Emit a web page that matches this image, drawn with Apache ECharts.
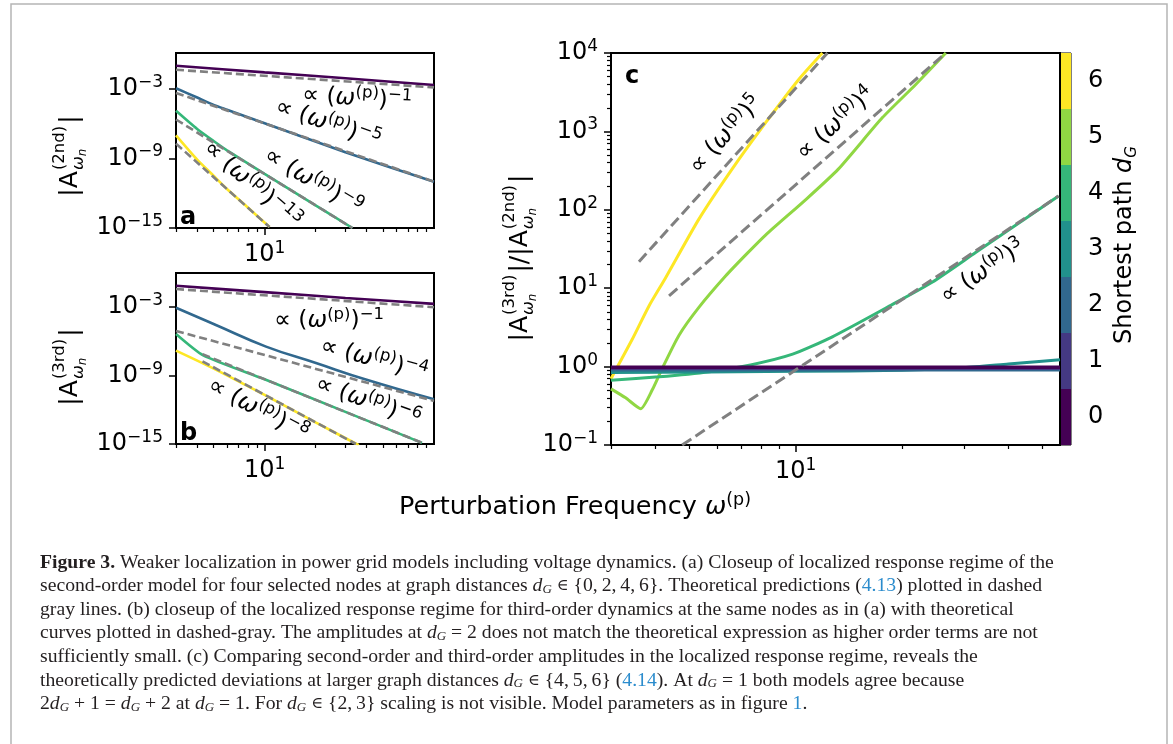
<!DOCTYPE html>
<html>
<head>
<meta charset="utf-8">
<title>Figure 3</title>
<script src="https://cdn.jsdelivr.net/npm/echarts@6/dist/echarts.min.js"></script>
<style>
    html, body { margin: 0; padding: 0; background: #fff; }
    #main { width: 1173px; height: 744px; }
</style>
</head>
<body>
<div id="main"></div>
<script>
// colours of the shortest path levels d_G = 0..6 (viridis, 7 steps)
var levels = [0, 1, 2, 3, 4, 5, 6];
var levelColors = ['#440154', '#443983', '#31688e', '#21918c', '#35b779', '#90d743', '#fde725'];

// tick values
var abMajorX = [10];
var abMinorX = [3, 4, 5, 6, 7, 8, 9, 20, 30, 40, 50, 60, 70, 80, 90];
var abMajorY = [1e-15, 1e-9, 1e-3];
var cMajorX = [10];
var cMinorX = [3, 4, 5, 6, 7, 8, 9, 20, 30, 40, 50];
var cMajorY = [0.1, 1, 10, 100, 1000, 10000];
var cMinorY = [0.2, 0.3, 0.4, 0.5, 0.6, 0.7, 0.8, 0.9, 2, 3, 4, 5, 6, 7, 8, 9,
    20, 30, 40, 50, 60, 70, 80, 90, 200, 300, 400, 500, 600, 700, 800, 900,
    2000, 3000, 4000, 5000, 6000, 7000, 8000, 9000];

// panel a: |A^(2nd)| against omega^(p), solid = model, fit = dashed theory
var a_d0 = [[3, 1.0e-1], [10, 2.7e-2], [30, 8.3e-3], [100, 2.2e-3]];
var a_d0_fit = [[3, 4.5e-2], [100, 1.35e-3]];
var a_d2 = [[3, 1.15e-3], [4, 1.8e-4], [5, 4.2e-5], [6, 1.6e-5], [10, 1.1e-6], [30, 3.4e-9], [100, 1.0e-11]];
var a_d2_fit = [[3, 4.5e-4], [100, 1.0e-11]];
var a_d4 = [[3, 1.3e-5], [4, 3.5e-7], [5, 3.2e-8], [6, 5e-9], [10, 4.7e-11], [20, 9.1e-14], [33, 1e-15]];
var a_d4_fit = [[3, 2.3e-6], [33, 1e-15]];
var a_d6 = [[3, 1e-7], [4, 8e-10], [5, 3.2e-11], [6, 2.3e-12], [8, 5.5e-14], [10.7, 1.2e-15]];
var a_d6_fit = [[3, 1.9e-8], [10.7, 1.2e-15]];

// panel b: |A^(3rd)|
var b_d0 = [[3, 7.6e-2], [10, 2.1e-2], [30, 6.5e-3], [100, 1.95e-3]];
var b_d0_fit = [[3, 3.9e-2], [100, 1.0e-3]];
var b_d2 = [[3, 8.9e-4], [5.2, 2.6e-5], [10.2, 3.5e-7], [20.1, 1.26e-8], [39.6, 4.5e-10], [100, 8.3e-12]];
var b_d2_fit = [[3, 8.3e-6], [100, 6.0e-12]];
var b_d4 = [[3, 4.4e-6], [4.34, 6e-8], [10, 4.8e-10], [30, 6.6e-13], [85, 1.26e-15]];
var b_d4_fit = [[4.3, 7.6e-8], [85, 1.26e-15]];
var b_d6 = [[3, 1.55e-7], [4.3, 1.26e-8], [6, 1.05e-9], [10, 2e-11], [20, 7.9e-14], [36, 7.9e-16]];
var b_d6_fit = [[4.3, 1.8e-8], [34.6, 1e-15]];

// panel c: ratio |A^(3rd)| / |A^(2nd)|
var c_d0 = [[3, 0.98], [56, 0.98]];
var c_d1 = [[3, 0.95], [56, 0.95]];
var c_d2 = [[3, 0.91], [56, 0.91]];
var c_d3 = [[3, 0.84], [10, 0.87], [20, 0.9], [30, 0.97], [40, 1.08], [56, 1.22]];
var c_d4 = [[3, 0.67], [4.1, 0.74], [5.7, 0.86], [7.45, 1.05], [9.8, 1.44], [12.7, 2.4], [18.4, 5.9], [24.4, 12], [32.3, 28.5], [55.5, 150]];
var c_d5 = [[3, 0.52], [3.3, 0.4], [3.64, 0.29], [3.93, 0.51], [4.19, 0.95], [4.67, 2.5], [5.32, 5.7], [6.33, 14.3], [7.3, 28], [8.23, 48],
    [10.7, 136], [13.2, 330], [17.6, 1500], [21.9, 4000], [26.6, 1e4]];
var c_d6 = [[3, 0.7], [3.13, 1.0], [3.44, 2.2], [3.84, 5.9], [4.28, 13.5], [5.32, 76], [6.62, 335], [8.23, 1300], [10.2, 4600], [11.9, 1e4]];
var c_fit5 = [[3.6, 21.8], [12.3, 1e4]];
var c_fit4 = [[4.38, 8], [26.6, 1e4]];
var c_fit3 = [[4.77, 0.1], [55.5, 150]];

var FONT = 'DejaVu Sans';
var SERIF = 'Liberation Serif';

var chart = echarts.init(document.getElementById('main'));

//10^n tick labels
function powLabel(v) {
    var e = Math.round(Math.log10(v));
    return '{b|10}{s|' + (e < 0 ? '\u2212' : '') + Math.abs(e) + '}';
}
var powRich = {
    b: {fontSize: 24, fontFamily: FONT, color: '#000', lineHeight: 30},
    s: {fontSize: 17, fontFamily: FONT, color: '#000', lineHeight: 17, verticalAlign: 'top'}
};

function xMajor(grid, min, max, ticks) {
    return {
        type: 'log', gridIndex: grid, min: min, max: max, position: 'bottom',
        axisLine: {show: false}, splitLine: {show: false},
        axisTick: {customValues: ticks, length: 7, lineStyle: {color: '#000', width: 1.5}},
        axisLabel: {customValues: ticks, formatter: powLabel, rich: powRich, margin: 12}
    };
}
function xMinor(grid, min, max, ticks) {
    return {
        type: 'log', gridIndex: grid, min: min, max: max, position: 'bottom',
        axisLine: {show: false}, splitLine: {show: false},
        axisTick: {customValues: ticks, length: 4, lineStyle: {color: '#000', width: 1.2}},
        axisLabel: {show: false}
    };
}
function yMajor(grid, min, max, ticks) {
    return {
        type: 'log', gridIndex: grid, min: min, max: max, position: 'left',
        axisLine: {show: false}, splitLine: {show: false},
        axisTick: {customValues: ticks, length: 7, lineStyle: {color: '#000', width: 1.5}},
        axisLabel: {customValues: ticks, formatter: powLabel, rich: powRich, margin: 13}
    };
}

function solid(data, color, xi, yi, width, z, smooth) {
    return {
        type: 'line', data: data, xAxisIndex: xi, yAxisIndex: yi, symbol: 'none', showSymbol: false,
        smooth: smooth || 0.2, silent: true, z: z, lineStyle: {color: color, width: width}
    };
}
function dashed(data, xi, yi, width, dash, z) {
    return {
        type: 'line', data: data, xAxisIndex: xi, yAxisIndex: yi, symbol: 'none', showSymbol: false,
        silent: true, z: z, lineStyle: {color: '#808080', width: width, type: dash}
    };
}

var series = [
    //panel a
    solid(a_d0, levelColors[0], 0, 0, 2.6, 2), solid(a_d2, levelColors[2], 0, 0, 2.6, 2),
    solid(a_d4, levelColors[4], 0, 0, 2.6, 2), solid(a_d6, levelColors[6], 0, 0, 2.6, 2),
    dashed(a_d0_fit, 0, 0, 2.6, [8, 4], 3), dashed(a_d2_fit, 0, 0, 2.6, [8, 4], 3),
    dashed(a_d4_fit, 0, 0, 2.6, [8, 4], 3), dashed(a_d6_fit, 0, 0, 2.6, [8, 4], 3),
    //panel b
    solid(b_d0, levelColors[0], 2, 1, 2.6, 2), solid(b_d2, levelColors[2], 2, 1, 2.6, 2, 0.45),
    solid(b_d4, levelColors[4], 2, 1, 2.6, 2), solid(b_d6, levelColors[6], 2, 1, 2.6, 2),
    dashed(b_d0_fit, 2, 1, 2.6, [8, 4], 3), dashed(b_d2_fit, 2, 1, 2.6, [8, 4], 3),
    dashed(b_d4_fit, 2, 1, 2.6, [8, 4], 3), dashed(b_d6_fit, 2, 1, 2.6, [8, 4], 3),
    //panel c, far levels first so the flat ones lie on top
    solid(c_d6, levelColors[6], 4, 2, 3, 2), solid(c_d5, levelColors[5], 4, 2, 3, 2),
    solid(c_d4, levelColors[4], 4, 2, 3, 2), solid(c_d3, levelColors[3], 4, 2, 3, 2),
    solid(c_d2, levelColors[2], 4, 2, 3.5, 2), solid(c_d1, levelColors[1], 4, 2, 3.5, 2),
    solid(c_d0, levelColors[0], 4, 2, 3.5, 2),
    dashed(c_fit5, 4, 2, 3, [11, 5], 3), dashed(c_fit4, 4, 2, 3, [11, 5], 3), dashed(c_fit3, 4, 2, 3, [11, 5], 3),
    //colorbar
    {
        type: 'custom', xAxisIndex: 6, yAxisIndex: 4, silent: true, z: 2,
        data: levels.map(function (v) { return [0.5, v]; }),
        renderItem: function (params, api) {
            var v = api.value(1);
            var p0 = api.coord([0, v - 0.5]);
            var p1 = api.coord([1, v + 0.5]);
            return {
                type: 'rect',
                shape: {x: p0[0], y: p1[1], width: p1[0] - p0[0], height: p0[1] - p1[1]},
                style: {fill: levelColors[v]}
            };
        }
    }
];

// text helpers
var mctx = document.createElement('canvas').getContext('2d');
function tw(str, size, style) {
    mctx.font = (style || 'normal') + ' ' + size + 'px "' + FONT + '"';
    return mctx.measureText(str).width;
}
function piece(str, x, y, size, style) {
    return {
        type: 'text', x: x, y: y, silent: true,
        style: {text: str, fontSize: size, fontFamily: FONT, fontStyle: style || 'normal', fill: '#000', align: 'left', verticalAlign: 'middle'}
    };
}
// |A^(order)_{omega_n}| built from pieces, returns the end x
function ampPieces(out, order, size, x) {
    var s = size * 0.66;
    out.push(piece('|A', x, 0, size));
    x += tw('|A', size);
    var sup = '(' + order + ')';
    out.push(piece(sup, x + 1, -size * 0.42, s));
    out.push(piece('\u03c9', x + 1, size * 0.36, s, 'italic'));
    out.push(piece('n', x + 1 + tw('\u03c9', s, 'italic'), size * 0.5, s * 0.72, 'italic'));
    x += tw(sup, s) + 3;
    out.push(piece('|', x, 0, size));
    return x + tw('|', size);
}
function yTitle(cx, cy, parts, size) {
    var kids = [], x = 0;
    parts.forEach(function (p) {
        if (p === '/') {
            kids.push(piece('/', x, 0, size));
            x += tw('/', size);
        } else {
            x = ampPieces(kids, p, size, x);
        }
    });
    kids.forEach(function (k) { k.x -= x / 2; });
    return {type: 'group', x: cx, y: cy, rotation: Math.PI / 2, children: kids};
}

var noteRich = {
    m: {fontSize: 23.5, fontFamily: FONT, fill: '#000', lineHeight: 30},
    w: {fontSize: 23.5, fontFamily: FONT, fontStyle: 'italic', fill: '#000', lineHeight: 30},
    s: {fontSize: 16.5, fontFamily: FONT, fill: '#000', lineHeight: 16, verticalAlign: 'top'}
};
function note(x, y, power, deg) {
    return {
        type: 'text', x: x, y: y, rotation: deg * Math.PI / 180, silent: true,
        style: {
            text: '{m|\u221d (}{w|\u03c9}{s|(p)}{m|)}{s|' + power + '}',
            rich: noteRich, align: 'center', verticalAlign: 'middle'
        }
    };
}
function letter(x, y, t) {
    return {type: 'text', x: x, y: y, silent: true,
        style: {text: t, fontSize: 24, fontWeight: 'bold', fontFamily: FONT, fill: '#000', align: 'left', verticalAlign: 'middle'}};
}

// caption, one element per printed line
var CAP = 19.7;
var capRich = {
    b: {fontWeight: 'bold', fontSize: CAP, fontFamily: SERIF, fill: '#231f20'},
    i: {fontStyle: 'italic', fontSize: CAP, fontFamily: SERIF, fill: '#231f20'},
    g: {fontStyle: 'italic', fontSize: 13, fontFamily: SERIF, fill: '#231f20', verticalAlign: 'bottom', lineHeight: 15},
    e: {fontSize: 16, fontFamily: 'DejaVu Serif', fill: '#231f20'},
    l: {fontSize: CAP, fontFamily: SERIF, fill: '#2b8ccd'}
};
var dG = '{i|d}{g|G}';
var IN = ' {e|\u2208} ';
var captionLines = [
    '{b|Figure 3.} Weaker localization in power grid models including voltage dynamics. (a) Closeup of localized response regime of the',
    'second-order model for four selected nodes at graph distances ' + dG + IN + '{0,\u20092,\u20094,\u20096}. Theoretical predictions ({l|4.13}) plotted in dashed',
    'gray lines. (b) closeup of the localized response regime for third-order dynamics at the same nodes as in (a) with theoretical',
    'curves plotted in dashed-gray. The amplitudes at ' + dG + ' = 2 does not match the theoretical expression as higher order terms are not',
    'sufficiently small. (c) Comparing second-order and third-order amplitudes in the localized response regime, reveals the',
    'theoretically predicted deviations at larger graph distances ' + dG + IN + '{4,\u20095,\u20096} ({l|4.14}). At ' + dG + ' = 1 both models agree because',
    '2' + dG + ' + 1 = ' + dG + ' + 2 at ' + dG + ' = 1. For ' + dG + IN + '{2,\u20093} scaling is not visible. Model parameters as in figure {l|1}.'
];

var graphics = [
    {type: 'rect', silent: true, z: -1, shape: {x: 11, y: 4, width: 1156, height: 800},
        style: {fill: 'none', stroke: '#b5b5b5', lineWidth: 1.5}},
    letter(180, 218, 'a'), letter(180, 434, 'b'), letter(625, 77, 'c'),
    yTitle(70, 156, ['2nd'], 25),
    yTitle(70, 367, ['3rd'], 25),
    yTitle(520, 258, ['3rd', '/', '2nd'], 25),
    note(357, 99, '\u22121', -4), note(328, 124, '\u22125', -19),
    note(313, 182, '\u22129', -31), note(252, 185, '\u221213', -41),
    note(329, 321, '\u22121', 0), note(374, 360, '\u22124', -15),
    note(368, 402, '\u22126', -20), note(258, 410, '\u22128', -28),
    note(726, 135, '5', 48), note(836, 124, '4', 42), note(983, 272, '3', 34),
    {
        type: 'text', x: 575, y: 507, silent: true,
        style: {
            text: '{t|Perturbation Frequency }{w|\u03c9}{s|(p)}', align: 'center', verticalAlign: 'middle',
            rich: {
                t: {fontSize: 25.5, fontFamily: FONT, fill: '#000', lineHeight: 32},
                w: {fontSize: 25.5, fontFamily: FONT, fontStyle: 'italic', fill: '#000', lineHeight: 32},
                s: {fontSize: 17.5, fontFamily: FONT, fill: '#000', lineHeight: 17, verticalAlign: 'top'}
            }
        }
    },
    {
        type: 'text', x: 1125, y: 245, rotation: Math.PI / 2, silent: true,
        style: {
            text: '{t|Shortest path }{i|d}{g|G}', align: 'center', verticalAlign: 'middle',
            rich: {
                t: {fontSize: 24, fontFamily: FONT, fill: '#000', lineHeight: 30},
                i: {fontSize: 24, fontFamily: FONT, fontStyle: 'italic', fill: '#000', lineHeight: 30},
                g: {fontSize: 15, fontFamily: FONT, fontStyle: 'italic', fill: '#000', lineHeight: 15, verticalAlign: 'bottom'}
            }
        }
    }
];
captionLines.forEach(function (line, i) {
    graphics.push({
        type: 'text', x: 40, y: 562.5 + i * 23.6, silent: true,
        style: {text: line, rich: capRich, fontSize: CAP, fontFamily: SERIF, fill: '#231f20', align: 'left', verticalAlign: 'middle'}
    });
});

var option = {
    animation: false,
    backgroundColor: '#fff',
    textStyle: {fontFamily: FONT},
    grid: [
        {left: 176, top: 53, width: 258, height: 175, show: true, borderColor: '#000', borderWidth: 2, outerBoundsMode: 'none'},
        {left: 176, top: 273, width: 258, height: 171, show: true, borderColor: '#000', borderWidth: 2, outerBoundsMode: 'none'},
        {left: 611, top: 53, width: 449, height: 392, show: true, borderColor: '#000', borderWidth: 2, outerBoundsMode: 'none'},
        {left: 1061, top: 53, width: 10, height: 392, show: true, borderColor: '#000', borderWidth: 1, outerBoundsMode: 'none'}
    ],
    xAxis: [
        xMajor(0, 3, 100, abMajorX), xMinor(0, 3, 100, abMinorX),
        xMajor(1, 3, 100, abMajorX), xMinor(1, 3, 100, abMinorX),
        xMajor(2, 3, 56, cMajorX), xMinor(2, 3, 56, cMinorX),
        {type: 'value', gridIndex: 3, min: 0, max: 1, show: false}
    ],
    yAxis: [
        yMajor(0, 1e-15, 1.26, abMajorY),
        yMajor(1, 1e-15, 1, abMajorY),
        yMajor(2, 0.1, 10000, cMajorY),
        {
            type: 'log', gridIndex: 2, min: 0.1, max: 10000, position: 'left',
            axisLine: {show: false}, splitLine: {show: false}, axisLabel: {show: false},
            axisTick: {customValues: cMinorY, length: 4, lineStyle: {color: '#000', width: 1.2}}
        },
        {
            type: 'value', gridIndex: 3, min: -0.5, max: 6.5, position: 'right',
            axisLine: {show: false}, splitLine: {show: false},
            axisTick: {customValues: levels, length: 7, lineStyle: {color: '#000', width: 1.5}},
            axisLabel: {customValues: levels, fontSize: 24, fontFamily: FONT, color: '#000', margin: 17}
        }
    ],
    series: series,
    graphic: graphics
};

chart.setOption(option);
</script>
</body>
</html>
